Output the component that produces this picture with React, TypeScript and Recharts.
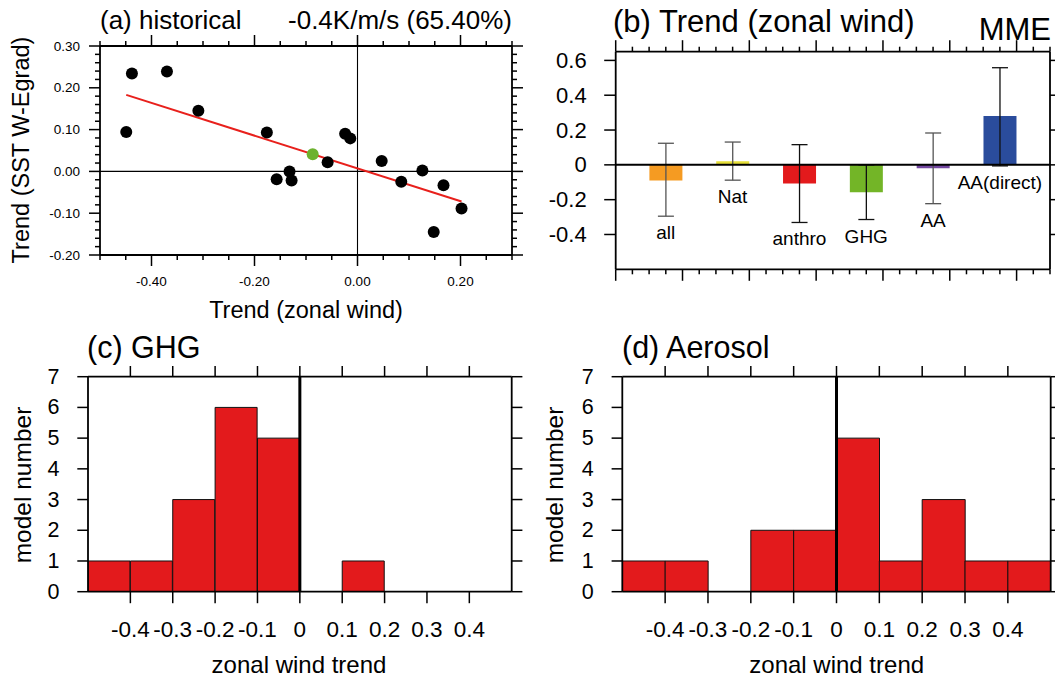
import React from 'react';
import { ComposedChart, Scatter, Bar, XAxis, YAxis, ReferenceLine, ErrorBar, Cell } from 'recharts';

const FONT = '"Liberation Sans", Arial, Helvetica, sans-serif';

// ---------- Panel (a): scatter of trends ----------
const histX = [-0.449, -0.438, -0.37, -0.309, -0.176, -0.157, -0.132, -0.128, -0.058, -0.024, -0.014, 0.047, 0.085, 0.126, 0.148, 0.167, 0.202];
const histY = [0.094, 0.234, 0.239, 0.145, 0.093, -0.019, 0.0, -0.022, 0.022, 0.09, 0.079, 0.025, -0.025, 0.002, -0.145, -0.033, -0.089];
const mmeX = [-0.087];
const mmeY = [0.041];
const fitX = [-0.449, 0.202];
const fitY = [0.183, -0.072];
const aXTicks = [-0.5, -0.45, -0.4, -0.35, -0.3, -0.25, -0.2, -0.15, -0.1, -0.05, 0, 0.05, 0.1, 0.15, 0.2, 0.25, 0.3];
const aXMajor = [-0.4, -0.2, 0, 0.2];
const aXLabels = ['-0.40', '-0.20', '0.00', '0.20'];
const aYTicks = [-0.2, -0.18, -0.16, -0.14, -0.12, -0.1, -0.08, -0.06, -0.04, -0.02, 0, 0.02, 0.04, 0.06, 0.08, 0.1, 0.12, 0.14, 0.16, 0.18, 0.2, 0.22, 0.24, 0.26, 0.28, 0.3];
const aYMajor = [-0.2, -0.1, 0, 0.1, 0.2, 0.3];
const aYLabels = ['-0.20', '-0.10', '0.00', '0.10', '0.20', '0.30'];

// ---------- Panel (b): MME trend bars ----------
const trendCats = ['all', 'Nat', 'anthro', 'GHG', 'AA', 'AA(direct)'];
const trendPos = [1, 2, 3, 4, 5, 6];
const trendVals = [-0.09, 0.021, -0.107, -0.158, -0.019, 0.28];
const trendLow = [-0.295, -0.088, -0.331, -0.314, -0.223, -0.006];
const trendHigh = [0.124, 0.131, 0.116, 0.0, 0.183, 0.558];
const trendColors = ['#F59B22', '#E6DF38', '#E31A1C', '#73B527', '#7347A0', '#2A4C9C'];
const trendErrDark = [false, false, true, true, false, true];
const bXTicks = [0.25, 0.5, 0.75, 1, 1.25, 1.5, 1.75, 2, 2.25, 2.5, 2.75, 3, 3.25, 3.5, 3.75, 4, 4.25, 4.5, 4.75, 5, 5.25, 5.5, 5.75, 6, 6.25, 6.5, 6.75];
const bXMajor = [0.25, 1.25, 2.25, 3.25, 4.25, 5.25, 6.25];
const bYTicks = [-0.4, -0.2, 0, 0.2, 0.4, 0.6];
const bYLabels = ['-0.4', '-0.2', '0', '0.2', '0.4', '0.6'];

// ---------- Panels (c), (d): histograms ----------
const binCenters = [-0.45, -0.35, -0.25, -0.15, -0.05, 0.05, 0.15, 0.25, 0.35, 0.45];
const ghgCounts = [1, 1, 3, 6, 5, 0, 1, 0, 0, 0];
const aerosolCounts = [1, 1, 0, 2, 2, 5, 1, 3, 1, 1];
const hXTicks = [-0.4, -0.3, -0.2, -0.1, 0, 0.1, 0.2, 0.3, 0.4];
const hXLabels = ['-0.4', '-0.3', '-0.2', '-0.1', '0', '0.1', '0.2', '0.3', '0.4'];
const hYTicks = [0, 1, 2, 3, 4, 5, 6, 7];
const hYLabels = ['0', '1', '2', '3', '4', '5', '6', '7'];

// Tick renderer: outward tick on this side, mirrored outward tick on the opposite
// side of the frame (span = plot size in px), and the label when given.
function makeTick(side: string, span: number, major: number[], labels: string[] | null, majorLen: number, minorLen: number, gap: number, fontSize: number, oppLen: number) {
  return (props: any) => {
    const x = Number(props.x);
    const y = Number(props.y);
    const v = Number(props.payload?.value);
    const idx = major.findIndex((m) => Math.abs(m - v) < 1e-6);
    const len = idx >= 0 ? majorLen : minorLen;
    const olen = idx >= 0 ? oppLen : minorLen;
    const lab = idx >= 0 && labels ? labels[idx] : null;
    if (side === 'bottom') {
      return (
        <g>
          {len > 0 ? <line x1={x} y1={y} x2={x} y2={y + len} stroke="#000" strokeWidth={1.5} /> : null}
          {olen > 0 ? <line x1={x} y1={y - span} x2={x} y2={y - span - olen} stroke="#000" strokeWidth={1.5} /> : null}
          {lab != null ? <text x={x} y={y + gap} textAnchor="middle" fontFamily={FONT} fontSize={fontSize} fill="#000">{lab}</text> : null}
        </g>
      );
    }
    return (
      <g>
        {len > 0 ? <line x1={x} y1={y} x2={x - len} y2={y} stroke="#000" strokeWidth={1.5} /> : null}
        {olen > 0 ? <line x1={x + span} y1={y} x2={x + span + olen} y2={y} stroke="#000" strokeWidth={1.5} /> : null}
        {lab != null ? <text x={x - gap} y={y} textAnchor="end" dominantBaseline="central" fontFamily={FONT} fontSize={fontSize} fill="#000">{lab}</text> : null}
      </g>
    );
  };
}

const AXLINE = { stroke: '#000', strokeWidth: 1.8 };

function PanelA() {
  const pts = histX.map((x, i) => ({ x, y: histY[i] }));
  const mme = mmeX.map((x, i) => ({ x, y: mmeY[i] }));
  const fit = fitX.map((x, i) => ({ x, y: fitY[i] }));
  return (
    <ComposedChart width={530} height={330} margin={{ top: 46, right: 18, bottom: 74, left: 99 }}>
      <XAxis xAxisId="b" orientation="bottom" dataKey="x" type="number" domain={[-0.5, 0.3]} ticks={aXTicks} height={1} axisLine={AXLINE}
        tickLine={false} tickSize={0} tickMargin={0} interval={0} allowDataOverflow
        tick={makeTick('bottom', 209, aXMajor, aXLabels, 11, 5, 31, 13.5, 11)} />
      <YAxis yAxisId="l" orientation="left" dataKey="y" type="number" domain={[-0.2, 0.3]} ticks={aYTicks} width={1} axisLine={AXLINE}
        tickLine={false} tickSize={0} tickMargin={0} interval={0} allowDataOverflow
        tick={makeTick('left', 412, aYMajor, aYLabels, 11, 5, 20, 13.5, 11)} />
      <ReferenceLine xAxisId="b" yAxisId="l" y={0.3} stroke="#000" strokeWidth={1.8} />
      <ReferenceLine xAxisId="b" yAxisId="l" x={0.3} stroke="#000" strokeWidth={1.8} />
      <ReferenceLine xAxisId="b" yAxisId="l" x={0} stroke="#000" strokeWidth={1.1} />
      <ReferenceLine xAxisId="b" yAxisId="l" y={0} stroke="#000" strokeWidth={1.1} />
      <Scatter xAxisId="b" yAxisId="l" data={fit} line={{ stroke: '#E8201C', strokeWidth: 2 }} shape={() => <g />} isAnimationActive={false} />
      <Scatter xAxisId="b" yAxisId="l" data={pts} shape={(p: any) => <circle cx={p.cx} cy={p.cy} r={6} fill="#000" />} isAnimationActive={false} />
      <Scatter xAxisId="b" yAxisId="l" data={mme} shape={(p: any) => <circle cx={p.cx} cy={p.cy} r={6} fill="#6DB22F" />} isAnimationActive={false} />
    </ComposedChart>
  );
}

function PanelB() {
  const data = trendCats.map((name, i) => {
    const err = [trendVals[i] - trendLow[i], trendHigh[i] - trendVals[i]];
    return { name, pos: trendPos[i], v: trendVals[i], low: trendLow[i], errK: trendErrDark[i] ? err : null, errG: trendErrDark[i] ? null : err };
  });
  return (
    <ComposedChart width={525} height={330} margin={{ top: 51.7, right: 5, bottom: 59.7, left: 84.7 }} data={data}>
      <XAxis xAxisId="bx" orientation="bottom" dataKey="pos" type="number" domain={[0.25, 6.75]} ticks={bXTicks} height={1} axisLine={AXLINE}
        tickLine={false} tickSize={0} tickMargin={0} interval={0} allowDataOverflow
        tick={makeTick('bottom', 217.6, bXMajor, null, 11.5, 5, 0, 20, 11.5)} />
      <YAxis yAxisId="l" orientation="left" type="number" domain={[-0.6, 0.65]} ticks={bYTicks} width={1} axisLine={AXLINE}
        tickLine={false} tickSize={0} tickMargin={0} interval={0} allowDataOverflow
        tick={makeTick('left', 434.3, bYTicks, bYLabels, 11.5, 0, 29, 22, 10)} />
      <YAxis yAxisId="lab" dataKey="low" domain={[-0.6, 0.65]} hide type="number" allowDataOverflow />
      <ReferenceLine xAxisId="bx" yAxisId="l" y={0.65} stroke="#000" strokeWidth={1.8} />
      <ReferenceLine xAxisId="bx" yAxisId="l" x={6.75} stroke="#000" strokeWidth={1.8} />
      <Bar xAxisId="bx" yAxisId="l" dataKey="v" barSize={33} isAnimationActive={false}>
        {data.map((d, i) => (
          <Cell key={d.name} fill={trendColors[i]} />
        ))}
        <ErrorBar dataKey="errG" width={8} stroke="#555" strokeWidth={1.3} direction="y" />
        <ErrorBar dataKey="errK" width={8} stroke="#111" strokeWidth={1.3} direction="y" />
      </Bar>
      <ReferenceLine xAxisId="bx" yAxisId="l" y={0} stroke="#000" strokeWidth={2} />
      <Scatter xAxisId="bx" yAxisId="lab" data={data} isAnimationActive={false}
        shape={(p: any) => (
          <text x={p.cx} y={p.cy + 23} textAnchor="middle" fontFamily={FONT} fontSize={19} fill="#000">{p.payload.name}</text>
        )} />
    </ComposedChart>
  );
}

function Histogram({ counts, margin, width, plotW }: { counts: number[]; margin: any; width: number; plotW: number }) {
  const data = binCenters.map((c, i) => ({ c, n: counts[i] }));
  return (
    <ComposedChart width={width} height={349} margin={margin} data={data} barCategoryGap={0} barGap={0}>
      <XAxis xAxisId="bx" orientation="bottom" dataKey="c" type="number" domain={[-0.5, 0.5]} ticks={hXTicks} height={1} axisLine={AXLINE}
        tickLine={false} tickSize={0} tickMargin={0} interval={0} allowDataOverflow
        tick={makeTick('bottom', 215, hXTicks, hXLabels, 11.5, 0, 45.5, 22.5, 10.7)} />
      <YAxis yAxisId="l" orientation="left" type="number" domain={[0, 7]} ticks={hYTicks} width={1} axisLine={AXLINE}
        tickLine={false} tickSize={0} tickMargin={0} interval={0} allowDataOverflow
        tick={makeTick('left', plotW, hYTicks, hYLabels, 10.7, 0, 28.5, 21.5, 10.7)} />
      <ReferenceLine xAxisId="bx" yAxisId="l" y={7} stroke="#000" strokeWidth={1.8} />
      <ReferenceLine xAxisId="bx" yAxisId="l" x={0.5} stroke="#000" strokeWidth={1.8} />
      <Bar xAxisId="bx" yAxisId="l" dataKey="n" fill="#E31A1C" stroke="#111" strokeWidth={1} isAnimationActive={false} />
      <ReferenceLine xAxisId="bx" yAxisId="l" x={0} stroke="#000" strokeWidth={3} />
    </ComposedChart>
  );
}

const T = (p: any) => <text fontFamily={FONT} fill="#000" {...p} />;

export default function App() {
  return (
    <div style={{ position: 'absolute', left: 0, top: 0, width: 1055, height: 679, background: '#fff', fontFamily: FONT }}>
      <svg width={1055} height={679} style={{ position: 'absolute', left: 0, top: 0 }}>
        <T x={100} y={29} fontSize={26}>(a) historical</T>
        <T x={512} y={29} fontSize={26} textAnchor="end">-0.4K/m/s (65.40%)</T>
        <T x={0} y={0} fontSize={23.5} textAnchor="middle" transform="translate(29,150) rotate(-90)">Trend (SST W-Egrad)</T>
        <T x={306} y={318} fontSize={23.5} textAnchor="middle">Trend (zonal wind)</T>
        <T x={613} y={32} fontSize={31}>(b) Trend (zonal wind)</T>
        <T x={1051} y={40} fontSize={31} textAnchor="end">MME</T>
        <T x={87} y={358} fontSize={30.5}>(c) GHG</T>
        <T x={299} y={673} fontSize={24} textAnchor="middle">zonal wind trend</T>
        <T x={0} y={0} fontSize={24.5} textAnchor="middle" transform="translate(31,485) rotate(-90)">model number</T>
        <T x={622} y={358} fontSize={30.5}>(d) Aerosol</T>
        <T x={836.7} y={673} fontSize={24} textAnchor="middle">zonal wind trend</T>
        <T x={0} y={0} fontSize={24.5} textAnchor="middle" transform="translate(563,485) rotate(-90)">model number</T>
      </svg>
      <div style={{ position: 'absolute', left: 0, top: 0 }}>
        <PanelA />
      </div>
      <div style={{ position: 'absolute', left: 530, top: 0 }}>
        <PanelB />
      </div>
      <div style={{ position: 'absolute', left: 0, top: 330 }}>
        <Histogram counts={ghgCounts} width={530} plotW={423.7} margin={{ top: 46.7, right: 18.3, bottom: 86.3, left: 87 }} />
      </div>
      <div style={{ position: 'absolute', left: 530, top: 330 }}>
        <Histogram counts={aerosolCounts} width={525} plotW={428.4} margin={{ top: 46.7, right: 4.3, bottom: 86.3, left: 91.3 }} />
      </div>
    </div>
  );
}
